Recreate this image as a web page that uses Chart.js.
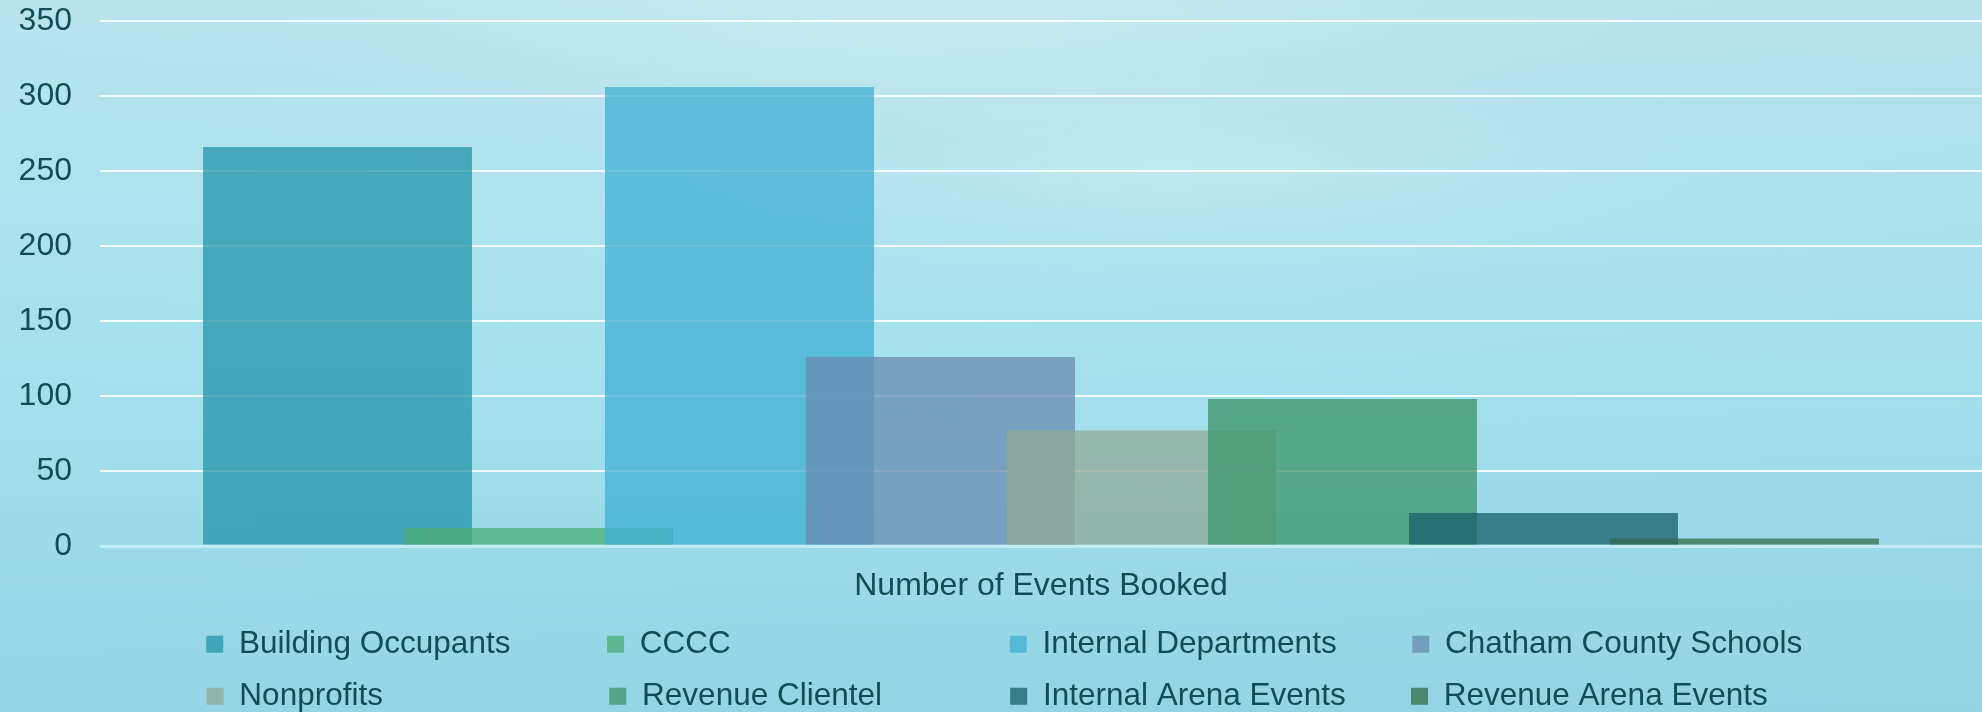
<!DOCTYPE html>
<html>
<head>
<meta charset="utf-8">
<title>Number of Events Booked</title>
<script src="https://cdn.jsdelivr.net/npm/chart.js@4.4.1/dist/chart.umd.min.js"></script>
<style>
    html, body {
        margin: 0;
        padding: 0;
    }
    body {
        width: 1982px;
        height: 712px;
        overflow: hidden;
        background:
            radial-gradient(ellipse 520px 110px at 1180px 170px, rgba(210, 238, 242, 0.45), rgba(210, 238, 242, 0) 100%),
            radial-gradient(ellipse 700px 120px at 950px 20px, rgba(208, 238, 242, 0.4), rgba(208, 238, 242, 0) 100%),
            linear-gradient(90deg, rgba(160, 220, 236, 0.15) 0%, rgba(160, 220, 236, 0) 40%, rgba(150, 205, 215, 0.12) 100%),
            linear-gradient(180deg, #bde5ee 0%, #b2e3ee 25%, #a6e1ee 50%, #9cdbea 75%, #93d5e5 100%);
    }
    #wrap {
        position: relative;
        width: 1982px;
        height: 712px;
    }
</style>
</head>
<body>
<div id="wrap"><canvas id="events-chart"></canvas></div>
<script>
// Data
const categories = ['Number of Events Booked'];
const seriesNames = [
    'Building Occupants',
    'CCCC',
    'Internal Departments',
    'Chatham County Schools',
    'Nonprofits',
    'Revenue Clientel',
    'Internal Arena Events',
    'Revenue Arena Events'
];
const seriesValues = [266, 12, 306, 126, 77, 98, 22, 5];
const yTickMin = 0;
const yTickMax = 350;
const yTickStep = 50;

// Colours (semi transparent, as in the original)
const seriesColors = [
    'rgba(35, 149, 167, 0.75)',
    'rgba(76, 173, 116, 0.75)',
    'rgba(63, 175, 211, 0.75)',
    'rgba(105, 139, 175, 0.75)',
    'rgba(144, 169, 151, 0.75)',
    'rgba(60, 148, 105, 0.75)',
    'rgba(23, 93, 105, 0.75)',
    'rgba(51, 108, 72, 0.75)'
];

const FONT_FAMILY = '"Liberation Sans", Arial, Helvetica, sans-serif';
const TEXT_COLOR = '#124d56';
const LEGEND_FONT_SIZE = 31.5;
const LEGEND_COLUMNS = 4;
const LEGEND_PADDING = 20.5;
const LEGEND_BOX = 17;

// Legend columns: pad text with spaces so the items line up like a grid
const measureCtx = document.createElement('canvas').getContext('2d');
const SPACE_CHARS = ['\u00a0', '\u2004', '\u2005', '\u2009', '\u2006', '\u200a'];

function textWidth(s) {
    measureCtx.font = LEGEND_FONT_SIZE + 'px ' + FONT_FAMILY;
    return measureCtx.measureText(s).width;
}

function padLabel(text, target) {
    let s = text;
    let w = textWidth(s);
    let added = true;
    while (added) {
        added = false;
        let best = null, bestW = w;
        for (const ch of SPACE_CHARS) {
            const nw = textWidth(s + ch);
            if (nw <= target + 0.01 && nw > bestW) { best = ch; bestW = nw; }
        }
        if (best) { s += best; w = bestW; added = true; }
    }
    return s;
}

const itemExtra = LEGEND_BOX + LEGEND_FONT_SIZE / 2;
const colTextWidth = 403 - LEGEND_PADDING - itemExtra;
const lastColTextWidth = 461 - itemExtra;

// later series are drawn on top of earlier ones
const drawInIndexOrder = {
    id: 'drawInIndexOrder',
    beforeDatasetsDraw(chart) {
        for (let i = 0; i < chart.data.datasets.length; i++) {
            if (chart.isDatasetVisible(i)) chart.getDatasetMeta(i).controller.draw();
        }
        return false;
    }
};

let eventsChart;

function initializeChart() {
    const ctx = document.getElementById('events-chart');
    Chart.defaults.font.family = FONT_FAMILY;
    Chart.defaults.color = TEXT_COLOR;

    eventsChart = new Chart(ctx, {
        type: 'bar',
        data: {
            labels: categories,
            datasets: seriesNames.map((name, i) => ({
                label: name,
                data: [seriesValues[i]],
                backgroundColor: seriesColors[i],
                borderWidth: 0,
                categoryPercentage: 1608 / 1882,
                barPercentage: 1.338
            }))
        },
        options: {
            responsive: true,
            maintainAspectRatio: false,
            animation: false,
            devicePixelRatio: 1,
            layout: {
                padding: { top: 21, right: 0, bottom: -10, left: 0 }
            },
            scales: {
                x: {
                    grid: { display: false, drawTicks: false },
                    border: { display: false },
                    ticks: {
                        color: TEXT_COLOR,
                        font: { size: 32 },
                        padding: 21
                    },
                    afterFit: (scale) => { scale.height = 62; }
                },
                y: {
                    min: yTickMin,
                    max: yTickMax,
                    border: { display: false },
                    grid: {
                        drawTicks: false,
                        color: (c) => c.tick && c.tick.value === 0 ? 'rgba(196, 238, 244, 0.95)' : 'rgba(255, 255, 255, 0.85)',
                        lineWidth: (c) => c.tick && c.tick.value === 0 ? 3 : 2
                    },
                    ticks: {
                        stepSize: yTickStep,
                        color: TEXT_COLOR,
                        font: { size: 32 },
                        padding: 28
                    },
                    afterFit: (scale) => {
                        scale.width = 100;
                        scale.paddingTop = 19;
                        scale.paddingBottom = 19;
                    }
                }
            },
            plugins: {
                tooltip: { enabled: false },
                legend: {
                    position: 'bottom',
                    fullSize: false,
                    labels: {
                        boxWidth: LEGEND_BOX,
                        boxHeight: LEGEND_BOX,
                        padding: LEGEND_PADDING,
                        color: TEXT_COLOR,
                        font: { size: LEGEND_FONT_SIZE },
                        generateLabels: function(chart) {
                            const items = Chart.defaults.plugins.legend.labels.generateLabels(chart);
                            const shortfall = {};
                            items.forEach(item => {
                                const col = item.datasetIndex % LEGEND_COLUMNS;
                                const row = Math.floor(item.datasetIndex / LEGEND_COLUMNS);
                                if (col < LEGEND_COLUMNS - 1) {
                                    item.text = padLabel(item.text, colTextWidth);
                                    shortfall[row] = (shortfall[row] || 0) + colTextWidth - textWidth(item.text);
                                }
                            });
                            items.forEach(item => {
                                const col = item.datasetIndex % LEGEND_COLUMNS;
                                const row = Math.floor(item.datasetIndex / LEGEND_COLUMNS);
                                if (col === LEGEND_COLUMNS - 1) {
                                    item.text = padLabel(item.text, lastColTextWidth + (shortfall[row] || 0));
                                }
                            });
                            return items;
                        }
                    }
                }
            }
        },
        plugins: [drawInIndexOrder]
    });
}

initializeChart();
</script>
</body>
</html>
